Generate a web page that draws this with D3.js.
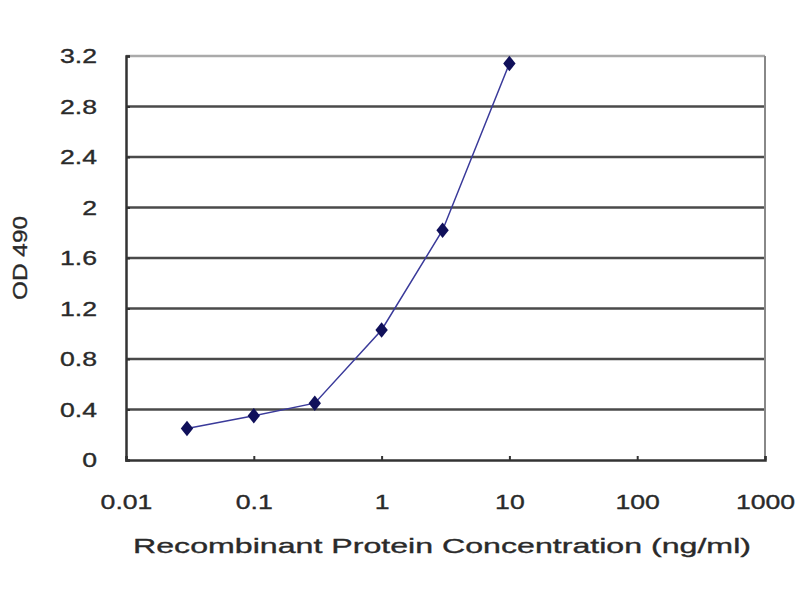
<!DOCTYPE html>
<html>
<head>
<meta charset="utf-8">
<script src="https://cdn.jsdelivr.net/npm/d3@7"></script>
<style>
  body { margin: 0; background: #fff; }
  svg text { font-family: "Liberation Sans", Arial, sans-serif; fill: #2a2a2a; stroke: #2a2a2a; stroke-width: 0.35px; }
</style>
</head>
<body>
<div id="chart"></div>
<script>
// concentration (ng/ml) and OD 490 readings
var concentrations = [0.03, 0.1, 0.3, 1, 3, 10];
var odValues = [0.25, 0.35, 0.45, 1.03, 1.82, 3.14];
var xTicks = [0.01, 0.1, 1, 10, 100, 1000];
var yTicks = [0, 0.4, 0.8, 1.2, 1.6, 2, 2.4, 2.8, 3.2];

var width = 800, height = 600;
var margin = { top: 56, right: 35, bottom: 140, left: 126 };
var w = width - margin.left - margin.right;
var h = height - margin.top - margin.bottom;
var stretch = 1.33;

var svg = d3.select("#chart").append("svg")
  .attr("width", width).attr("height", height);

var g = svg.append("g")
  .attr("transform", "translate(" + margin.left + "," + margin.top + ")");

var x = d3.scaleLog().domain([0.01, 1000]).range([0, w]);
var y = d3.scaleLinear().domain([0, 3.2]).range([h, 0]);

// grid lines
g.selectAll("line.grid").data(yTicks.filter(function(d) { return d > 0 && d < 3.2; }))
  .enter().append("line").attr("class", "grid")
  .attr("x1", 0).attr("x2", w)
  .attr("y1", function(d) { return y(d); }).attr("y2", function(d) { return y(d); })
  .attr("stroke", "#4a4a4a").attr("stroke-width", 2.5);

// top and right border
g.append("line").attr("x1", 0).attr("x2", w).attr("y1", y(3.2)).attr("y2", y(3.2))
  .attr("stroke", "#aaa").attr("stroke-width", 2.5);
g.append("line").attr("x1", w).attr("x2", w).attr("y1", 0).attr("y2", h)
  .attr("stroke", "#888").attr("stroke-width", 2);

// axes
var yAxis = g.append("g").call(d3.axisLeft(y).tickValues(yTicks).tickSize(-4)
  .tickFormat(function(d) { return d3.format("~g")(d); }));
var xAxis = g.append("g").attr("transform", "translate(0," + h + ")")
  .call(d3.axisBottom(x).tickValues(xTicks).tickSize(-4)
  .tickFormat(function(d) { return String(d); }));

[yAxis, xAxis].forEach(function(a) {
  a.select(".domain").attr("stroke", "#333").attr("stroke-width", 2.5);
  a.selectAll(".tick line").attr("stroke", "#333").attr("stroke-width", 2);
  a.selectAll(".tick text").attr("font-size", 20).attr("fill", "#2a2a2a")
    .style("font-family", "'Liberation Sans', Arial, sans-serif");
});
yAxis.selectAll(".tick text").attr("x", -29).attr("dy", "0.33em");
xAxis.selectAll(".tick text").attr("y", 49).attr("dy", 0);

// widen the glyphs a little, like the original
svg.selectAll(".tick text").each(function() {
  var len = this.getComputedTextLength();
  d3.select(this).attr("textLength", len * stretch).attr("lengthAdjust", "spacingAndGlyphs");
});

// curve
var line = d3.line()
  .x(function(d, i) { return x(concentrations[i]); })
  .y(function(d) { return y(d); });

g.append("path").datum(odValues)
  .attr("d", line).attr("fill", "none")
  .attr("stroke", "#3a3a9a").attr("stroke-width", 1.5);

var diamond = d3.symbol().type(d3.symbolDiamond).size(85);
g.selectAll("path.pt").data(odValues).enter().append("path")
  .attr("class", "pt")
  .attr("d", diamond)
  .attr("transform", function(d, i) {
    return "translate(" + x(concentrations[i]) + "," + y(d) + ") scale(1.25,0.9)";
  })
  .attr("fill", "#10105a");

// axis titles
svg.append("text")
  .attr("x", 442).attr("y", 553)
  .attr("text-anchor", "middle")
  .attr("font-size", 21)
  .attr("textLength", 618).attr("lengthAdjust", "spacingAndGlyphs")
  .text("Recombinant Protein Concentration (ng/ml)");

svg.append("text")
  .attr("transform", "translate(27,258) rotate(-90)")
  .attr("text-anchor", "middle")
  .attr("font-size", 20)
  .attr("textLength", 84).attr("lengthAdjust", "spacingAndGlyphs")
  .text("OD 490");
</script>
</body>
</html>
